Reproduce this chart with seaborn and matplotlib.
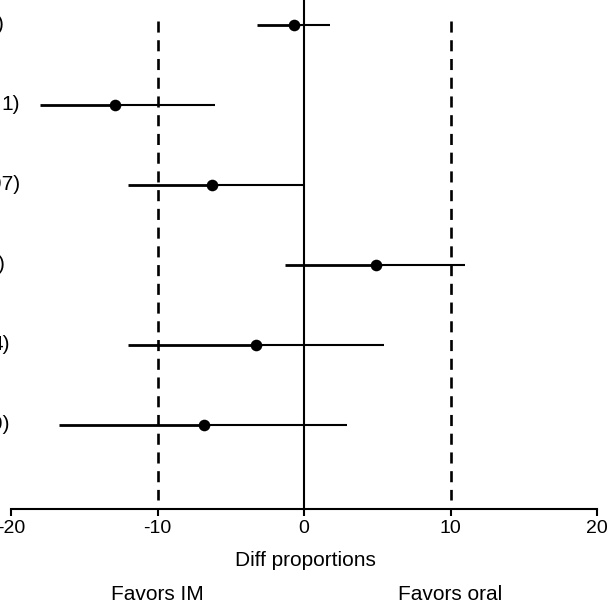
import pandas as pd
import seaborn as sns
import matplotlib.pyplot as plt
from matplotlib.transforms import blended_transform_factory

# study labels (only the tail end is visible in the crop)
study_tails = [")", "1)", "97)", ")", "4)", "9)"]
diff_prop = [-0.7, -12.9, -6.25, 4.9, -3.25, -6.85]
ci_lower = [-3.2, -18.0, -12.0, -1.3, -12.0, -16.75]
ci_upper = [1.8, -6.05, 0.0, 11.0, 5.45, 2.95]
x_ticks = [-20, -10, 0, 10, 20]
favor_labels = ["Favors IM", "Favors oral"]
favor_at = [-10, 10]
margin_lines = [-10, 10]

df = pd.DataFrame({
    "row": range(len(diff_prop)),
    "diff": diff_prop,
    "lo": ci_lower,
    "hi": ci_upper,
})

sns.set_style("white")
plt.rcParams["font.family"] = ["Liberation Sans", "DejaVu Sans"]
plt.rcParams["axes.unicode_minus"] = False

W, H, DPI = 611, 602, 100
fig = plt.figure(figsize=(W / DPI, H / DPI), dpi=DPI)
ax = fig.add_axes([0, 93 / H, 1, 509 / H])
ax.set_facecolor("white")

# 14.65 px per unit, -20 sits at 11 px from the left edge
ax.set_xlim(-20 - 11 / 14.65, 20 + 14 / 14.65)
ax.set_ylim(6.05, -0.3125)

# reference lines
ax.axvline(0, color="black", lw=1.5, zorder=2)
ax.vlines(margin_lines, -0.05, 5.94, colors="black", lw=1.9,
          linestyles=(0, (4.2, 2.9)), zorder=2)

# confidence intervals (left arm drawn a bit heavier, as in the original)
ax.hlines(df["row"], df["lo"], df["diff"], colors="black", lw=2.0, zorder=3)
ax.hlines(df["row"], df["diff"], df["hi"], colors="black", lw=1.5, zorder=3)
sns.scatterplot(data=df, x="diff", y="row", color="black", s=70,
                linewidth=0, ax=ax, zorder=5, legend=False)

# axes styling
for side in ["top", "right", "left"]:
    ax.spines[side].set_visible(False)
ax.spines["bottom"].set_bounds(-20, 20)
ax.spines["bottom"].set_linewidth(1.5)
ax.spines["bottom"].set_color("black")
ax.set_yticks([])
ax.set_xticks(x_ticks)
ax.set_xticklabels([str(t) for t in x_ticks])
ax.tick_params(axis="x", bottom=True, direction="out", length=5, width=1.5,
               labelsize=14, pad=3, colors="black")
ax.set_ylabel("")
ax.set_xlabel("Diff proportions", fontsize=15, labelpad=10, color="black")

# favors annotations under the axis
tr = blended_transform_factory(ax.transData, fig.transFigure)
for lab, xpos in zip(favor_labels, favor_at):
    ax.text(xpos, (H - 594) / H, lab, transform=tr, ha="center", va="center",
            fontsize=15, color="black")

# clipped study labels at the left edge, as in the cropped original
label_right_px = [4, 20, 20, 5, 10, 10]
tr_left = blended_transform_factory(fig.transFigure, ax.transData)
for lab, px, row in zip(study_tails, label_right_px, df["row"]):
    ax.text(px / W, row, lab, transform=tr_left, ha="right", va="center",
            fontsize=15, color="black", clip_on=False)

fig.savefig("out.png", dpi=DPI)
plt.close(fig)
